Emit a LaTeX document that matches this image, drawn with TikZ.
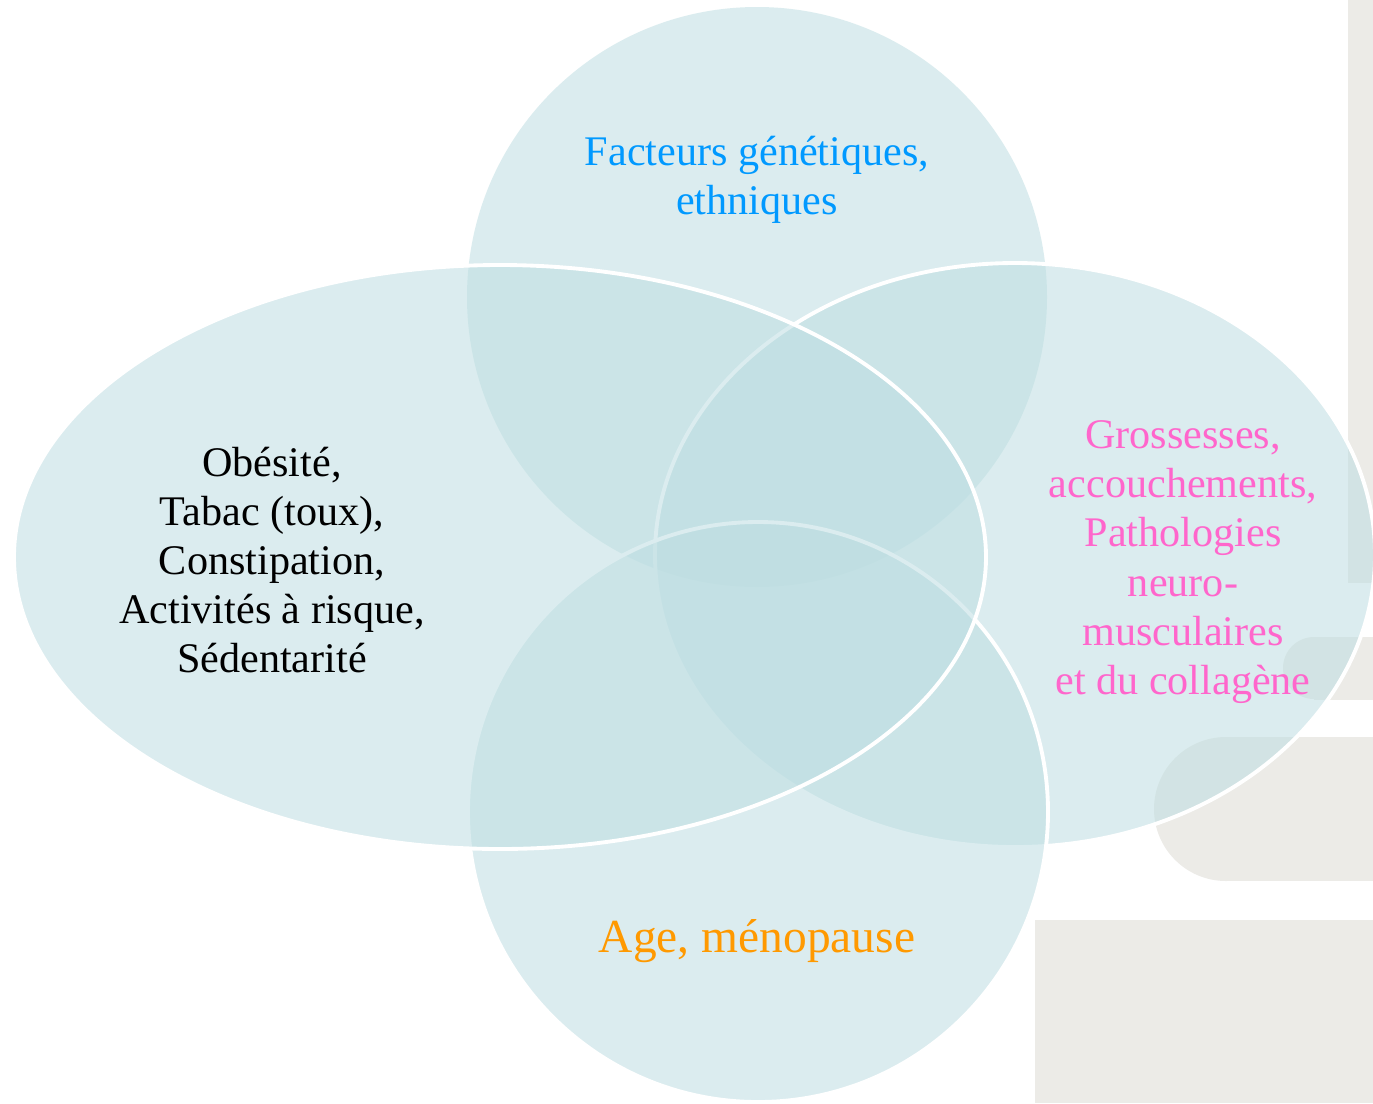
\documentclass[tikz,border=0pt]{standalone}
\usepackage{fontspec}
\setmainfont{Liberation Serif}
\usepackage{xcolor}
\definecolor{vennfill}{RGB}{190,222,226}
\definecolor{backgray}{RGB}{236,235,231}
\definecolor{txtblue}{RGB}{0,153,255}
\definecolor{txtpink}{RGB}{255,102,204}
\definecolor{txtorange}{RGB}{255,153,0}

\begin{document}
\begin{tikzpicture}[x=0.02cm,y=-0.02cm]
\tikzstyle{petal} = [fill=vennfill, fill opacity=0.55, draw=white, line width=2.2pt]
\tikzstyle{petal_top} = [fill=vennfill, fill opacity=0.55]
\tikzstyle{back} = [fill=backgray]
\tikzstyle{label} = [align=center, font=\fontsize{24}{28}\selectfont, inner sep=0pt]

\clip (0,0) rectangle (1373,1103);
\fill[white] (0,0) rectangle (1373,1103);

% background shapes
\path[back] (1348,0) rectangle (1373,583);
\path[back] (1314,668) circle (31);
\path[back] (1314,637) rectangle (1373,700);
\path[back] (1226,809) circle (72);
\path[back] (1226,737) rectangle (1373,881);
\path[back] (1035,920) rectangle (1373,1103);

% the four sets
\path[petal_top] (757,297) circle (290);
\path[petal] (1015,555) ellipse [x radius=360, y radius=292];
\path[petal] (758,812) circle (290);
\path[petal] (500,557) ellipse [x radius=486, y radius=292];

% labels
\node[label, text=txtblue] (genetique) at (757,180) {Facteurs génétiques,\\ethniques};
\node[label, text=black] (mode_vie) at (272,560) {Obésité,\\Tabac (toux),\\Constipation,\\Activités à risque,\\Sédentarité};
\node[label, text=txtpink] (obstetric) at (1183,562) {Grossesses,\\accouchements,\\Pathologies\\neuro-\\musculaires\\et du collagène};
\node[label, text=txtorange, font=\fontsize{27}{31}\selectfont] (age) at (757,941) {Age, ménopause};

\end{tikzpicture}
\end{document}
